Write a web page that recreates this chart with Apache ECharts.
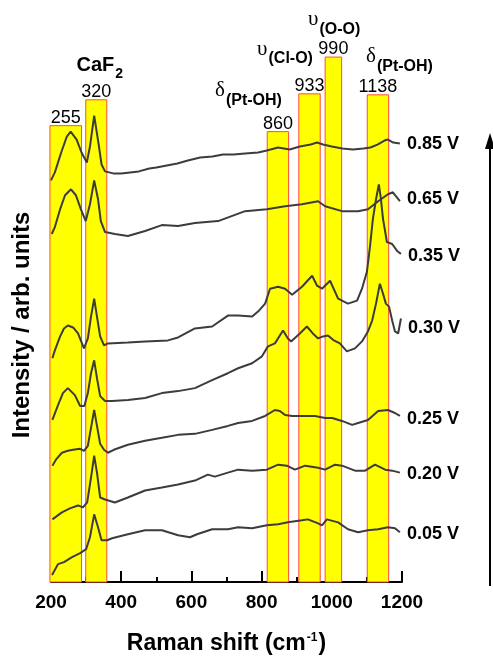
<!DOCTYPE html>
<html><head><meta charset="utf-8">
<script src="https://cdn.jsdelivr.net/npm/echarts@6/dist/echarts.min.js"></script>
<style>html,body{margin:0;padding:0;background:#fff}#c{width:493px;height:660px}</style>
</head><body><div id="c"></div>
<script>
// ---- data (Raman shift cm-1, intensity arb. units) ----
const seriesNames = ['0.85 V','0.65 V','0.35 V','0.30 V','0.25 V','0.20 V','0.05 V'];
const s085 = [[200,404],[211,412],[230,433],[245,448],[256,453],[273,445],[287,432],[302,422],[311,438],[323,469],[335,442],[344,420],[354,413],[377,411],[400,411],[425,412],[450,413],[480,416],[500,417],[530,419],[560,421],[590,424],[625,427],[660,428],[690,430],[720,430],[753,431],[790,432],[815,434],[847,437],[880,435],[909,438],[940,440],[958,442],[975,440],[1000,438],[1030,436],[1060,435],[1090,436],[1110,437],[1130,440],[1150,444],[1160,445],[1175,442],[1194,441]];
const s065 = [[202,350],[211,357],[226,375],[240,389],[257,395],[271,389],[285,375],[299,363],[311,380],[323,404],[334,385],[342,363],[354,352],[382,350],[419,348],[468,353],[516,359],[562,358],[610,361],[676,363],[753,373],[815,375],[867,378],[915,380],[961,383],[981,378],[1029,373],[1075,373],[1103,375],[1132,383],[1160,390],[1174,392],[1194,383]];
const s035 = [[204,225],[211,233],[226,247],[237,255],[248,258],[263,256],[277,250],[294,235],[305,245],[314,267],[323,285],[331,267],[340,247],[351,238],[362,240],[419,241],[468,242],[533,243],[562,246],[610,255],[659,257],[704,268],[733,268],[773,267],[790,272],[810,280],[824,295],[847,297],[867,295],[887,289],[915,297],[944,308],[958,298],[972,295],[995,303],[1018,285],[1046,280],[1072,283],[1086,295],[1100,312],[1109,338],[1117,365],[1126,385],[1134,400],[1140,385],[1146,365],[1157,342],[1172,340],[1186,333],[1197,330]];
const s030 = [[204,163],[220,178],[234,190],[248,195],[268,188],[283,177],[295,177],[305,190],[314,210],[323,223],[331,205],[340,187],[354,182],[374,182],[419,183],[468,185],[516,190],[562,192],[610,195],[659,203],[704,210],[733,215],[773,220],[801,227],[818,237],[838,240],[861,253],[875,245],[884,242],[909,250],[929,257],[946,250],[961,245],[975,247],[989,248],[1006,243],[1023,240],[1043,232],[1066,235],[1086,242],[1103,252],[1115,263],[1126,280],[1137,300],[1146,290],[1154,280],[1163,277],[1172,263],[1180,252],[1189,250],[1197,265]];
const s025 = [[204,117],[214,123],[231,130],[248,132],[263,133],[283,134],[294,132],[305,137],[314,155],[323,173],[331,157],[340,139],[351,133],[362,130],[379,133],[419,138],[468,142],[516,145],[562,148],[610,149],[659,153],[704,157],[733,160],[773,162],[810,167],[838,173],[852,172],[867,168],[887,167],[924,167],[952,167],[981,165],[1001,165],[1029,162],[1058,158],[1075,160],[1103,163],[1132,172],[1160,173],[1180,170],[1194,167]];
const s020 = [[204,63],[231,70],[254,74],[277,77],[291,75],[303,80],[314,105],[323,127],[331,110],[340,85],[354,83],[382,80],[419,85],[468,92],[516,95],[562,98],[610,102],[647,108],[667,106],[704,110],[733,113],[773,112],[815,113],[847,118],[872,117],[895,113],[924,117],[961,115],[981,113],[1009,118],[1029,117],[1066,112],[1095,112],[1123,118],[1152,113],[1172,112],[1194,110]];
const s005 = [[203,7],[220,18],[237,20],[260,25],[283,29],[300,33],[311,45],[323,68],[334,55],[344,42],[360,42],[374,44],[419,48],[468,52],[516,52],[562,47],[596,45],[616,48],[659,53],[704,53],[733,55],[773,54],[815,57],[847,58],[875,60],[915,62],[932,63],[961,59],[972,57],[986,63],[1018,60],[1046,53],[1075,50],[1103,52],[1132,53],[1160,55],[1180,54],[1194,50]];
const spectra = [s085, s065, s035, s030, s025, s020, s005];

// highlighted bands
const bandLeft  = [197, 299, 816, 906, 981, 1101];
const bandRight = [287, 359, 877, 967, 1028, 1162];
const bandTop   = [459, 485, 453, 491, 528, 490];
const bandLabel = ['255', '320', '860', '933', '990', '1138'];
const bandNote    = ['', 'CaF', 'δ', 'υ', 'υ', 'δ'];
const bandNoteSub = ['', '2', '(Pt-OH)', '(Cl-O)', '(O-O)', '(Pt-OH)'];

const xTicks = [200, 400, 600, 800, 1000, 1200];

// ---- layout / style ----
const FONT = '"Liberation Sans", Arial, Helvetica, sans-serif';
const GREEK_FONT = '"Liberation Serif", "DejaVu Serif", serif';
const noteDx = [0, 18, -53, -42, -15, -2];      // junction x offset from band centre
const noteDy = [0, -22, -26, -30, -22, -23];    // subscript baseline offset from band top
const mainLift = [0, 6, 9, 8, 9, 9];            // main symbol baseline above subscript baseline
const endOffsetY = [0, -2, 2, 9, 3, 1, 2];

const bandData = bandLeft.map((l, i) => [l, bandRight[i], bandTop[i]]);

const chart = echarts.init(document.getElementById('c'), null, {renderer: 'canvas'});

const lineSeries = spectra.map((d, i) => ({
  type: 'line', name: seriesNames[i], data: d, showSymbol: false, symbol: 'none',
  z: 3, silent: true,
  lineStyle: {color: '#3c3c3c', width: 2},
  endLabel: {show: true, formatter: seriesNames[i], fontFamily: FONT, fontWeight: 'bold',
             fontSize: 18, color: '#000', distance: 7, offset: [0, endOffsetY[i]]}
}));

const bandSeries = {
  type: 'custom', z: 1, silent: true, clip: false,
  data: bandData,
  encode: {x: [0, 1], y: 2},
  renderItem: function (params, api) {
    const i = params.dataIndex;
    const p0 = api.coord([api.value(0), 0]);
    const p1 = api.coord([api.value(1), api.value(2)]);
    const top = p1[1];
    const cx = (p0[0] + p1[0]) / 2;
    const ch = [{
      type: 'rect',
      shape: {x: p0[0], y: top, width: p1[0] - p0[0], height: p0[1] - top},
      style: {fill: '#ffff00', stroke: '#ff4a3a', lineWidth: 1}
    }, {
      type: 'text',
      style: {text: bandLabel[i], x: cx, y: top + 1, align: 'center', verticalAlign: 'bottom',
              fontSize: 18, fontFamily: FONT, fill: '#000'}
    }];
    if (bandNote[i]) {
      const jx = cx + noteDx[i];
      const subBase = top + noteDy[i];
      const isCaF = bandNote[i] === 'CaF';
      ch.push({
        type: 'text',
        style: {text: bandNote[i], x: jx, y: subBase - mainLift[i] + 4, align: 'right', verticalAlign: 'bottom',
                fontSize: isCaF ? 20 : 21, fontWeight: isCaF ? 'bold' : 'normal',
                fontFamily: isCaF ? FONT : GREEK_FONT, fill: '#000'}
      });
      ch.push({
        type: 'text',
        style: {text: bandNoteSub[i], x: jx + 1, y: subBase + 3, align: 'left', verticalAlign: 'bottom',
                fontSize: isCaF ? 14 : 16, fontWeight: 'bold', fontFamily: FONT, fill: '#000'}
      });
    }
    return {type: 'group', children: ch};
  }
};

chart.setOption({
  animation: false,
  backgroundColor: '#fff',
  grid: {left: 51, right: 91, top: 68, bottom: 75},
  xAxis: {
    type: 'value', min: 200, max: 1200, interval: 200,
    name: 'Raman shift (cm{sup|-1})',
    nameLocation: 'middle', nameGap: 50,
    nameTextStyle: {fontFamily: FONT, fontWeight: 'bold', fontSize: 23, color: '#000',
      rich: {sup: {fontFamily: FONT, fontWeight: 'bold', fontSize: 12, color: '#000', verticalAlign: 'top', padding: [0, 1, 10, 1]}}},
    axisLine: {show: true, lineStyle: {color: '#000', width: 2}},
    axisTick: {show: true, inside: true, length: 11, lineStyle: {color: '#000', width: 2}},
    minorTick: {show: true, splitNumber: 2, length: 5, lineStyle: {color: '#000', width: 2}},
    axisLabel: {fontFamily: FONT, fontWeight: 'bold', fontSize: 19, color: '#000', margin: 11,
      formatter: v => xTicks.indexOf(v) >= 0 ? String(v) : ''},
    splitLine: {show: false}
  },
  yAxis: {
    type: 'value', min: 0, max: 517,
    name: 'Intensity / arb. units', nameLocation: 'middle', nameGap: 17,
    nameTextStyle: {fontFamily: FONT, fontWeight: 'bold', fontSize: 24, color: '#000'},
    axisLine: {show: false}, axisTick: {show: false}, axisLabel: {show: false}, splitLine: {show: false}
  },
  graphic: [
    {type: 'line', shape: {x1: 490, y1: 586, x2: 490, y2: 146}, style: {stroke: '#000', lineWidth: 2}},
    {type: 'polygon', shape: {points: [[490, 133], [485, 149], [495, 149]]}, style: {fill: '#000'}}
  ],
  series: [bandSeries].concat(lineSeries)
});
</script></body></html>
